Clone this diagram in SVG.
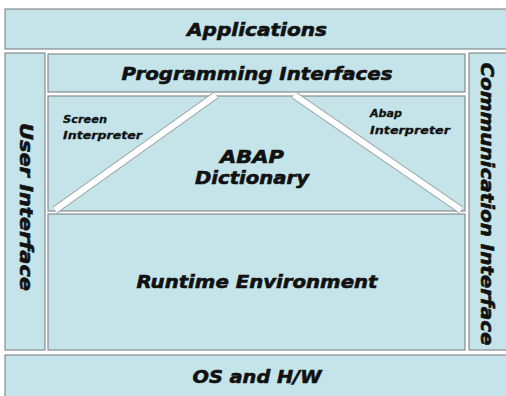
<svg xmlns="http://www.w3.org/2000/svg" width="506" height="396" viewBox="0 0 506 396">
<style>
.box{fill:#c4e4ea;stroke:#858d90;stroke-width:1.2}
.t{font-family:"DejaVu Sans","Liberation Sans",sans-serif;font-weight:bold;font-style:italic;fill:#111;stroke:#111;stroke-width:0.6}
.big{font-size:18px}
.sm{font-size:10.5px;stroke-width:0.3}
.bandO{stroke:#9aa3a6;stroke-width:8;stroke-linecap:butt}
.bandI{stroke:#ffffff;stroke-width:6;stroke-linecap:butt}
</style>
<rect x="0" y="0" width="506" height="396" fill="#ffffff"/>
<g id="applications">
<rect class="box" x="5" y="9" width="510" height="40"/>
<text class="t big" x="257" y="36" text-anchor="middle" textLength="140" lengthAdjust="spacingAndGlyphs">Applications</text>
</g>
<g id="user-interface">
<rect class="box" x="5" y="53" width="40" height="297"/>
<text class="t big" transform="translate(20,207) rotate(90)" text-anchor="middle" textLength="168" lengthAdjust="spacingAndGlyphs">User Interface</text>
</g>
<g id="communication-interface">
<rect class="box" x="469" y="53" width="45" height="297"/>
<text class="t big" transform="translate(481,204) rotate(90)" text-anchor="middle" textLength="283" lengthAdjust="spacingAndGlyphs">Communication Interface</text>
</g>
<g id="programming-interfaces">
<rect class="box" x="48" y="54" width="417" height="38"/>
<text class="t big" x="257" y="80" text-anchor="middle" textLength="271" lengthAdjust="spacingAndGlyphs">Programming Interfaces</text>
</g>
<g id="middle-panel">
<rect class="box" x="48" y="96" width="417" height="115"/>
</g>
<g id="connectors">
<line class="bandO" x1="216" y1="95" x2="55" y2="210"/>
<line class="bandI" x1="216" y1="95" x2="55" y2="210"/>
<line class="bandO" x1="294" y1="95" x2="461" y2="210"/>
<line class="bandI" x1="294" y1="95" x2="461" y2="210"/>
</g>
<g id="screen-interpreter">
<text class="t sm" x="63" y="123" textLength="44" lengthAdjust="spacingAndGlyphs">Screen</text>
<text class="t sm" x="63" y="139" textLength="79" lengthAdjust="spacingAndGlyphs">Interpreter</text>
</g>
<g id="abap-interpreter">
<text class="t sm" x="370" y="117" textLength="32" lengthAdjust="spacingAndGlyphs">Abap</text>
<text class="t sm" x="370" y="134" textLength="80" lengthAdjust="spacingAndGlyphs">Interpreter</text>
</g>
<g id="abap-dictionary">
<text class="t big" x="252" y="163" text-anchor="middle" textLength="64" lengthAdjust="spacingAndGlyphs">ABAP</text>
<text class="t big" x="252" y="184" text-anchor="middle" textLength="114" lengthAdjust="spacingAndGlyphs">Dictionary</text>
</g>
<g id="runtime-environment">
<rect class="box" x="48" y="214" width="417" height="136"/>
<text class="t big" x="257" y="288" text-anchor="middle" textLength="241" lengthAdjust="spacingAndGlyphs">Runtime Environment</text>
</g>
<g id="os-hw">
<rect class="box" x="5" y="355" width="510" height="50"/>
<text class="t big" x="257" y="383" text-anchor="middle" textLength="129" lengthAdjust="spacingAndGlyphs">OS and H/W</text>
</g>
</svg>
